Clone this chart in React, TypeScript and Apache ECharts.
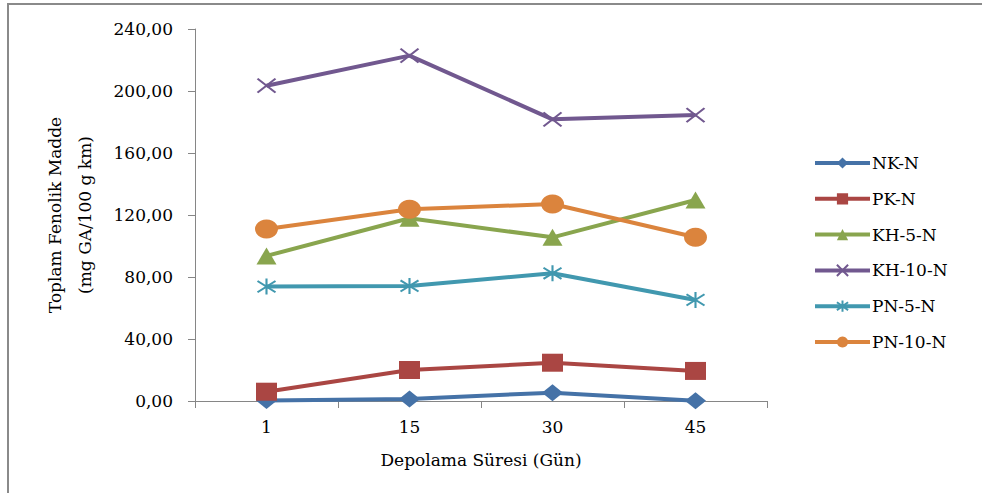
import React, { useEffect, useRef } from "react";
import * as echarts from "echarts";

// Storage time (days) on the category axis
const days = ["1", "15", "30", "45"];

// Total phenolic content per sample group (mg GA/100 g km)
const nkN = [0.3, 1.3, 5.4, 0.2];
const pkN = [6.0, 20.0, 24.7, 19.4];
const kh5N = [93.6, 117.9, 105.6, 129.7];
const kh10N = [203.4, 222.8, 181.7, 184.5];
const pn5N = [73.8, 74.2, 82.4, 65.2];
const pn10N = [111.0, 123.7, 127.1, 105.6];

const seriesNames = ["NK-N", "PK-N", "KH-5-N", "KH-10-N", "PN-5-N", "PN-10-N"];

const yTicks = { min: 0, max: 240, interval: 40 };

const FONT = "'DejaVu Serif', 'Liberation Serif', serif";

const CROSS = "path://M0,0L10,10M10,0L0,10";
const STAR = "path://M5,0L5,10M0,1.5L10,8.5M0,8.5L10,1.5";

export default function App() {
  const ref = useRef<HTMLDivElement>(null);

  useEffect(() => {
    if (!ref.current) return;
    const chart = echarts.init(ref.current, undefined, { renderer: "svg" });

    const mk = (
      name: string,
      data: number[],
      color: string,
      symbol: string,
      size: number[],
      stroked = false
    ) => ({
      name,
      type: "line",
      data,
      symbol,
      symbolSize: size,
      showAllSymbol: true,
      lineStyle: { color, width: 4 },
      itemStyle: stroked
        ? { color, borderColor: color, borderWidth: 2 }
        : { color },
      emphasis: { disabled: true },
    });

    chart.setOption({
      animation: false,
      backgroundColor: "#ffffff",
      textStyle: { fontFamily: FONT },
      graphic: [
        {
          type: "rect",
          shape: { x: 8, y: 4, width: 1200, height: 700 },
          style: { fill: "none", stroke: "#8a8a8a", lineWidth: 2 },
          silent: true,
        },
      ],
      grid: { left: 195, right: 215, top: 29, bottom: 92, containLabel: false },
      legend: {
        orient: "vertical",
        left: 808,
        top: 149,
        itemWidth: 55,
        itemHeight: 14,
        itemGap: 17.8,
        data: seriesNames,
        lineStyle: { width: 4 },
        textStyle: {
          fontFamily: FONT,
          fontSize: 17,
          color: "#000",
          lineHeight: 18,
          padding: [0, 0, 0, -3],
        },
      },
      xAxis: {
        type: "category",
        data: days,
        name: "Depolama Süresi (Gün)",
        nameLocation: "middle",
        nameGap: 50,
        nameTextStyle: { fontFamily: FONT, fontSize: 17, color: "#000" },
        axisLine: { lineStyle: { color: "#868686", width: 1 } },
        axisTick: { show: true, length: 7, inside: false, lineStyle: { color: "#868686" } },
        axisLabel: { fontFamily: FONT, fontSize: 17, color: "#000", margin: 17 },
        splitLine: { show: false },
      },
      yAxis: {
        type: "value",
        min: yTicks.min,
        max: yTicks.max,
        interval: yTicks.interval,
        name: "Toplam Fenolik Madde\n(mg GA/100 g km)",
        nameLocation: "middle",
        nameGap: 95,
        nameTextStyle: {
          fontFamily: FONT,
          fontSize: 17,
          color: "#000",
          lineHeight: 30,
        },
        axisLine: { show: true, lineStyle: { color: "#868686", width: 1 } },
        axisTick: { show: true, length: 7, inside: false, lineStyle: { color: "#868686" } },
        axisLabel: {
          fontFamily: FONT,
          fontSize: 17,
          color: "#000",
          margin: 22,
          formatter: (v: number) => v.toFixed(2).replace(".", ","),
        },
        splitLine: { show: false },
      },
      series: [
        mk("NK-N", nkN, "#4572A7", "diamond", [21, 17]),
        mk("PK-N", pkN, "#AA4643", "rect", [21, 18]),
        mk("KH-5-N", kh5N, "#89A54E", "triangle", [20, 17]),
        mk("KH-10-N", kh10N, "#71588F", CROSS, [18, 14], true),
        mk("PN-5-N", pn5N, "#4198AF", STAR, [18, 16], true),
        mk("PN-10-N", pn10N, "#DB843D", "circle", [23, 19]),
      ],
    });

    return () => chart.dispose();
  }, []);

  return (
    <div
      ref={ref}
      style={{ position: "fixed", left: 0, top: 0, width: 982, height: 493 }}
    />
  );
}
